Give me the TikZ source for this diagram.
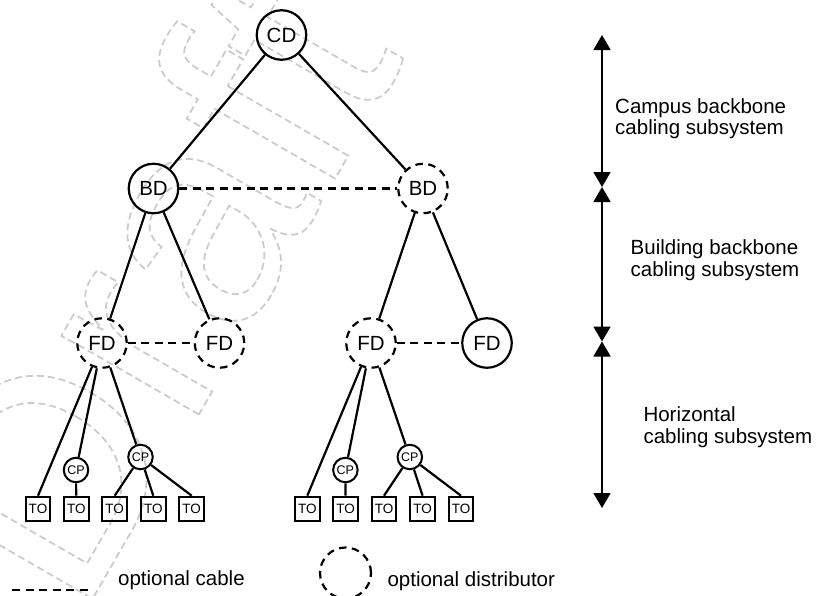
\documentclass[tikz,border=0pt]{standalone}
\usepackage{fontspec}
\setmainfont{Liberation Sans}
\usetikzlibrary{arrows.meta}
\tikzset{
  ln/.style={line width=2.2pt},
  optc/.style={line width=2.2pt, dash pattern=on 8pt off 5.5pt},
  dist/.style={circle, draw, line width=2.2pt, minimum size=49.5pt, inner sep=0pt, font=\fontsize{20.5}{20.5}\selectfont},
  optd/.style={dist, dash pattern=on 7.5pt off 5.5pt},
  cpn/.style={circle, draw, line width=2pt, minimum size=24.5pt, inner sep=0pt, font=\fontsize{12.5}{12.5}\selectfont},
  ton/.style={rectangle, draw, line width=2pt, minimum width=24.7pt, minimum height=24pt, inner sep=0pt, font=\fontsize{13.5}{13.5}\selectfont},
  span/.style={line width=1.8pt, {Triangle[width=17pt,length=15pt]}-{Triangle[width=17pt,length=15pt]}},
  lbl/.style={font=\fontsize{20.5}{21.5}\selectfont, align=left, inner sep=0pt, anchor=base west},
}
\begin{document}
\begin{tikzpicture}[x=1pt,y=-1pt]
\useasboundingbox (0,0) rectangle (821,595);
% watermark
\node[rotate=60, inner sep=0pt] (wm) at (150,285) {\special{pdf:literal direct q 1 Tr 0.8 G 1.8 w [7 4] 0 d}\fontsize{300}{300}\selectfont Draft\special{pdf:literal direct Q}};
% distributors
\node[dist] (cd) at (281.5,35) {CD};
\node[dist] (bdl) at (153.5,188.5) {BD};
\node[optd] (bdr) at (423,188.5) {BD};
\node[optd] (fdl1) at (102,343) {FD};
\node[optd] (fdl2) at (219.5,343) {FD};
\node[optd] (fdr1) at (371,343) {FD};
\node[dist] (fdr2) at (487,343) {FD};
% consolidation points
\node[cpn] (cpl1) at (76,470) {CP};
\node[cpn] (cpl2) at (140.5,457) {CP};
\node[cpn] (cpr1) at (345.4,470) {CP};
\node[cpn] (cpr2) at (409.8,457) {CP};
% telecom outlets
\node[ton] (tol1) at (38,508.7) {TO};
\node[ton] (tol2) at (76.3,508.7) {TO};
\node[ton] (tol3) at (114.7,508.7) {TO};
\node[ton] (tol4) at (153.3,508.7) {TO};
\node[ton] (tol5) at (191.7,508.7) {TO};
\node[ton] (tor1) at (307.3,508.7) {TO};
\node[ton] (tor2) at (345.6,508.7) {TO};
\node[ton] (tor3) at (384,508.7) {TO};
\node[ton] (tor4) at (422.6,508.7) {TO};
\node[ton] (tor5) at (461,508.7) {TO};
% cables
\draw[ln] (cd) -- (bdl);
\draw[ln] (cd) -- (bdr);
\draw[ln] (bdl) -- (fdl1);
\draw[ln] (bdl) -- (fdl2);
\draw[ln] (bdr) -- (fdr1);
\draw[ln] (bdr) -- (fdr2);
\draw[optc] (bdl) -- (bdr);
\draw[optc] (fdl1) -- (fdl2);
\draw[optc] (fdr1) -- (fdr2);
\draw[ln] (fdl1) -- (tol1.north);
\draw[ln] (fdl1) -- (cpl1);
\draw[ln] (cpl1) -- (tol2);
\draw[ln] (fdl1) -- (cpl2);
\draw[ln] (cpl2) -- (tol3.north);
\draw[ln] (cpl2) -- (tol4.north);
\draw[ln] (cpl2) -- (tol5.north);
\draw[ln] (fdr1) -- (tor1.north);
\draw[ln] (fdr1) -- (cpr1);
\draw[ln] (cpr1) -- (tor2);
\draw[ln] (fdr1) -- (cpr2);
\draw[ln] (cpr2) -- (tor3.north);
\draw[ln] (cpr2) -- (tor4.north);
\draw[ln] (cpr2) -- (tor5.north);
% subsystem spans
\coordinate (s0) at (602,35);
\coordinate (s1) at (602,187);
\coordinate (s2) at (602,341.5);
\coordinate (s3) at (602,508);
\draw[span] (s0) -- (s1);
\draw[span] (s1) -- (s2);
\draw[span] (s2) -- (s3);
\node[lbl] (lcampus) at (615,134.5) {Campus backbone\\cabling subsystem};
\node[lbl] (lbuild) at (630.5,276) {Building backbone\\cabling subsystem};
\node[lbl] (lhoriz) at (643.3,443) {Horizontal\\cabling subsystem};
% legend
\coordinate (lg1) at (12,590);
\coordinate (lg2) at (90,590);
\draw[optc] (lg1) -- (lg2);
\node[lbl] (lgt1) at (118,585.5) {optional cable};
\node[optd, minimum size=51pt] (lgc) at (345.5,573) {};
\node[lbl] (lgt2) at (387.3,586.5) {optional distributor};
\end{tikzpicture}
\end{document}
